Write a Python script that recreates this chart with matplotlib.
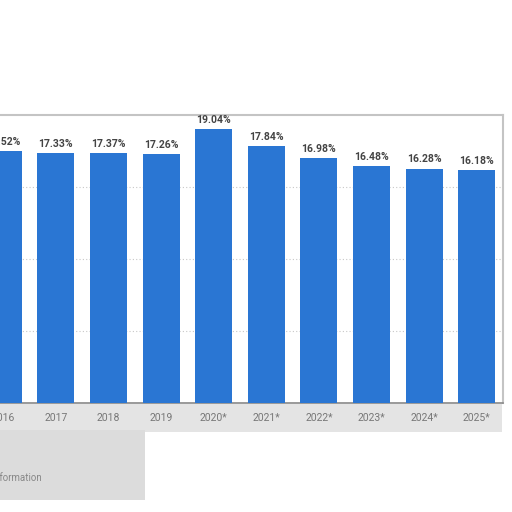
import matplotlib
matplotlib.use("Agg")
import matplotlib.pyplot as plt
from matplotlib.patches import Rectangle

years = ["2016", "2017", "2018", "2019", "2020*", "2021*", "2022*", "2023*", "2024*", "2025*"]
values = [17.52, 17.33, 17.37, 17.26, 19.04, 17.84, 16.98, 16.48, 16.28, 16.18]
labels = ["17.52%", "17.33%", "17.37%", "17.26%", "19.04%", "17.84%", "16.98%", "16.48%", "16.28%", "16.18%"]

plt.rcParams['font.family'] = ['Roboto', 'DejaVu Sans']

fig = plt.figure(figsize=(5.12, 5.12), dpi=100)
fig.patch.set_facecolor('white')

# grey band behind tick labels and lower-left block (blurred page background)
fig.patches.append(Rectangle((0, 1 - 432/512), 502/512, 28/512, transform=fig.transFigure,
                             facecolor='#e4e4e4', edgecolor='none', zorder=-2))
fig.patches.append(Rectangle((0, 1 - 500/512), 145/512, 70/512, transform=fig.transFigure,
                             facecolor='#dcdcdc', edgecolor='none', zorder=-2))
fig.text(42/512, 1 - 478/512, "Additional Information", ha='right', va='center',
         fontsize=7, color='#888888')

ax = fig.add_axes([-23/512, 1 - 403/512, 526/512, 288/512])
ax.set_facecolor('white')
x = range(len(years))
bars = ax.bar(x, values, width=0.70, color='#2a76d3', zorder=3)
ax.set_xlim(-0.5, len(years) - 0.5)
ax.set_ylim(0, 20)
ax.set_yticks([5, 10, 15])
ax.yaxis.grid(True, linestyle=(0, (1, 2)), color='#c8c8c8', linewidth=0.8, zorder=0)
ax.tick_params(axis='y', left=False, labelleft=False)
ax.set_xticks(list(x))
ax.set_xticklabels(years, fontsize=7.5, color='#777777')
ax.tick_params(axis='x', length=0, pad=7)

for b, lab in zip(bars, labels):
    ax.annotate(lab, (b.get_x() + b.get_width() / 2, b.get_height()),
                xytext=(0, 3), textcoords='offset points', ha='center', va='bottom',
                fontsize=7.5, fontweight='bold', color='#444444')

for side in ['top', 'right', 'left']:
    ax.spines[side].set_color('#c4c4c4')
    ax.spines[side].set_linewidth(1.5)
ax.spines['bottom'].set_color('#888888')
ax.spines['bottom'].set_linewidth(1.2)

fig.savefig("out.png", dpi=100, facecolor='white')
